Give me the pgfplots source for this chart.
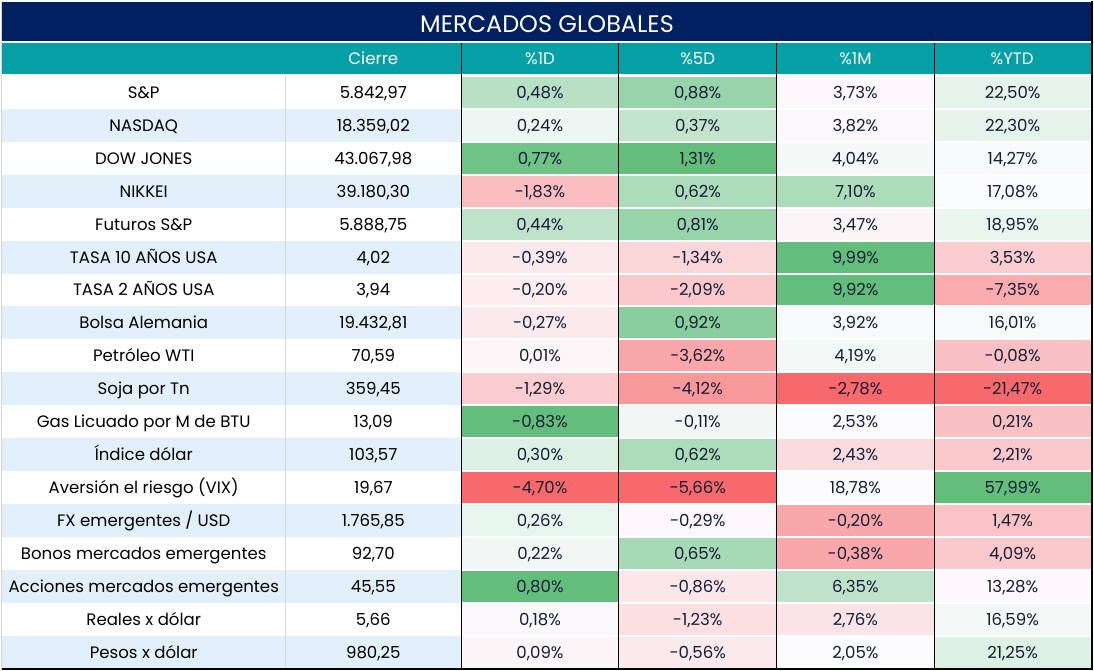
\documentclass[border=0pt]{standalone}
\usepackage{pgfplots}
\pgfplotsset{compat=1.18}
\usepackage{fontspec}
\setmainfont{Poppins}
\definecolor{G}{RGB}{99,190,123}
\definecolor{R}{RGB}{248,105,107}
\definecolor{W}{RGB}{252,252,255}
\definecolor{navy}{RGB}{0,32,96}
\definecolor{teal}{RGB}{5,160,165}
\definecolor{lb}{RGB}{226,240,252}
\definecolor{txt}{RGB}{22,30,55}
\definecolor{sep}{RGB}{215,215,215}
% percent cell: xl, xr, row, colour, text
\newcommand{\pc}[5]{%
  \fill[#4] (axis cs:#1,{43+33*#3}) rectangle (axis cs:#2,{74+33*#3});
  \node[text=txt,anchor=base,inner sep=0pt] at (axis cs:{(#1+#2)/2},{64.5+33*#3}) {#5};}
\newcommand{\prow}[9]{%
  \pc{461}{619}{#1}{#2}{#3}\pc{619}{777}{#1}{#4}{#5}%
  \pc{777}{935}{#1}{#6}{#7}\pc{935}{1092}{#1}{#8}{#9}}
% name cell: row, name, close, background
\newcommand{\nrow}[4]{%
  \fill[#4] (axis cs:0,{42+33*#1}) rectangle (axis cs:461,{75+33*#1});
  \draw[sep,line width=1pt] (axis cs:285,{42+33*#1}) -- (axis cs:285,{75+33*#1});
  \node[text=black,anchor=base,inner sep=0pt] at (axis cs:143,{64.5+33*#1}) {#2};
  \node[text=black,anchor=base,inner sep=0pt] at (axis cs:373,{64.5+33*#1}) {#3};}
\begin{document}
\begin{tikzpicture}
\begin{axis}[
  scale only axis, width=1094pt, height=670pt,
  xmin=0, xmax=1094, ymin=0, ymax=670, y dir=reverse,
  axis lines=none, ticks=none, clip=false,
  font=\fontsize{16.6}{20}\selectfont]
\fill[white] (axis cs:0,0) rectangle (axis cs:1094,670);
% title
\fill[navy] (axis cs:0,1) rectangle (axis cs:1092,40);
\node[text=white,anchor=base,inner sep=0pt,font=\fontsize{24}{28}\selectfont] at (axis cs:547,32) {MERCADOS GLOBALES};
% header
\fill[teal] (axis cs:0,42) rectangle (axis cs:1092,73);
\node[text=white,anchor=base,inner sep=0pt] at (axis cs:373,64) {Cierre};
\node[text=white,anchor=base,inner sep=0pt] at (axis cs:540,64) {\%1D};
\node[text=white,anchor=base,inner sep=0pt] at (axis cs:698,64) {\%5D};
\node[text=white,anchor=base,inner sep=0pt] at (axis cs:856,64) {\%1M};
\node[text=white,anchor=base,inner sep=0pt] at (axis cs:1013,64) {\%YTD};
% name / close columns
\nrow{1}{S\&P}{5.842,97}{white}
\nrow{2}{NASDAQ}{18.359,02}{lb}
\nrow{3}{DOW JONES}{43.067,98}{white}
\nrow{4}{NIKKEI}{39.180,30}{lb}
\nrow{5}{Futuros S\&P}{5.888,75}{white}
\nrow{6}{TASA 10 AÑOS USA}{4,02}{lb}
\nrow{7}{TASA 2 AÑOS USA}{3,94}{white}
\nrow{8}{Bolsa Alemania}{19.432,81}{lb}
\nrow{9}{Petróleo WTI}{70,59}{white}
\nrow{10}{Soja por Tn}{359,45}{lb}
\nrow{11}{Gas Licuado por M de BTU}{13,09}{white}
\nrow{12}{Índice dólar}{103,57}{lb}
\nrow{13}{Aversión el riesgo (VIX)}{19,67}{white}
\nrow{14}{FX emergentes / USD}{1.765,85}{lb}
\nrow{15}{Bonos mercados emergentes}{92,70}{white}
\nrow{16}{Acciones mercados emergentes}{45,55}{lb}
\nrow{17}{Reales x dólar}{5,66}{white}
\nrow{18}{Pesos x dólar}{980,25}{lb}
% percent columns
\prow{1}{G!45!W}{0,48\%}{G!65!W}{0,88\%}{R!3!W}{3,73\%}{G!15!W}{22,50\%}
\prow{2}{G!10!W}{0,24\%}{G!38!W}{0,37\%}{R!2!W}{3,82\%}{G!15!W}{22,30\%}
\prow{3}{G!92!W}{0,77\%}{G!100!W}{1,31\%}{G!5!W}{4,04\%}{G!4!W}{14,27\%}
\prow{4}{R!42!W}{-1,83\%}{G!52!W}{0,62\%}{G!52!W}{7,10\%}{G!1!W}{17,08\%}
\prow{5}{G!40!W}{0,44\%}{G!65!W}{0,81\%}{R!5!W}{3,47\%}{G!12!W}{18,95\%}
\prow{6}{R!12!W}{-0,39\%}{R!26!W}{-1,34\%}{G!100!W}{9,99\%}{R!32!W}{3,53\%}
\prow{7}{R!10!W}{-0,20\%}{R!35!W}{-2,09\%}{G!100!W}{9,92\%}{R!55!W}{-7,35\%}
\prow{8}{R!12!W}{-0,27\%}{G!75!W}{0,92\%}{G!3!W}{3,92\%}{G!4!W}{16,01\%}
\prow{9}{R!4!W}{0,01\%}{R!58!W}{-3,62\%}{G!7!W}{4,19\%}{R!40!W}{-0,08\%}
\prow{10}{R!32!W}{-1,29\%}{R!68!W}{-4,12\%}{R!100!W}{-2,78\%}{R!100!W}{-21,47\%}
\prow{11}{G!100!W}{-0,83\%}{G!8!W}{-0,11\%}{W}{2,53\%}{R!40!W}{0,21\%}
\prow{12}{G!20!W}{0,30\%}{G!52!W}{0,62\%}{R!22!W}{2,43\%}{R!35!W}{2,21\%}
\prow{13}{R!100!W}{-4,70\%}{R!100!W}{-5,66\%}{W}{18,78\%}{G!100!W}{57,99\%}
\prow{14}{G!13!W}{0,26\%}{R!3!W}{-0,29\%}{R!58!W}{-0,20\%}{R!38!W}{1,47\%}
\prow{15}{G!8!W}{0,22\%}{G!56!W}{0,65\%}{R!58!W}{-0,38\%}{R!35!W}{4,09\%}
\prow{16}{G!100!W}{0,80\%}{R!15!W}{-0,86\%}{G!40!W}{6,35\%}{R!3!W}{13,28\%}
\prow{17}{R!2!W}{0,18\%}{R!20!W}{-1,23\%}{R!16!W}{2,76\%}{G!7!W}{16,59\%}
\prow{18}{R!5!W}{0,09\%}{R!12!W}{-0,56\%}{W}{2,05\%}{G!20!W}{21,25\%}
% borders
\draw[black,line width=1pt] (axis cs:461,42) -- (axis cs:461,668);
\draw[black,line width=1pt] (axis cs:619,42) -- (axis cs:619,668);
\draw[black,line width=1pt] (axis cs:777,42) -- (axis cs:777,668);
\draw[black,line width=1pt] (axis cs:935,42) -- (axis cs:935,668);
\draw[black,line width=2pt] (axis cs:1093,0) -- (axis cs:1093,670);
\draw[black,line width=2pt] (axis cs:0,669) -- (axis cs:1094,669);
\draw[sep,line width=1pt] (axis cs:0.5,0) -- (axis cs:0.5,670);
\end{axis}
\end{tikzpicture}
\end{document}
